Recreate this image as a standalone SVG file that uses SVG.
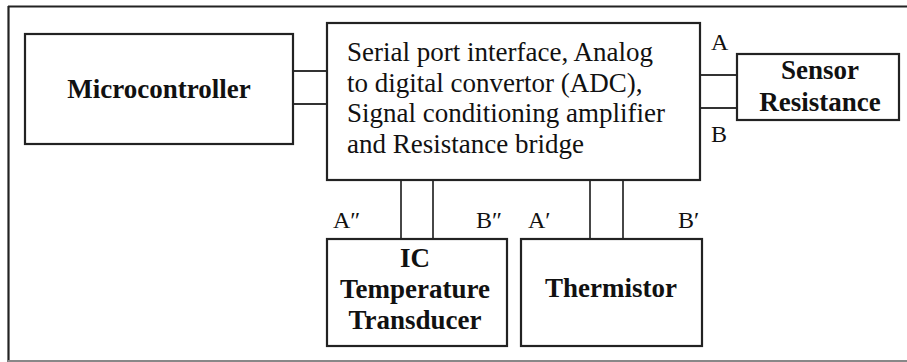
<svg xmlns="http://www.w3.org/2000/svg" width="907" height="362" viewBox="0 0 907 362">
<style>
.box{fill:#fff;stroke:#222;stroke-width:2.2}
.ln{stroke:#333;stroke-width:1.8;fill:none}
text{font-family:'Liberation Serif','Times New Roman',Tinos,'DejaVu Serif',serif;fill:#111}
.b{font-weight:bold;font-size:27px;text-anchor:middle}
.r{font-size:27px}
.lab{font-size:24px}
</style>
<rect width="907" height="362" fill="#fff"/>
<g id="frame">
<line x1="8" y1="6.5" x2="907" y2="6.5" stroke="#222" stroke-width="2.2"/>
<line x1="8.5" y1="6" x2="8.5" y2="362" stroke="#222" stroke-width="2.2"/>
<line x1="8" y1="361" x2="907" y2="361" stroke="#888" stroke-width="2"/>
</g>
<g id="connectors">
<line class="ln" x1="293" y1="71" x2="327" y2="71"/>
<line class="ln" x1="293" y1="104" x2="327" y2="104"/>
<line class="ln" x1="700" y1="75" x2="737" y2="75"/>
<line class="ln" x1="700" y1="108" x2="737" y2="108"/>
<line class="ln" x1="401" y1="180" x2="401" y2="239"/>
<line class="ln" x1="433" y1="180" x2="433" y2="239"/>
<line class="ln" x1="590" y1="180" x2="590" y2="239"/>
<line class="ln" x1="623" y1="180" x2="623" y2="239"/>
<text class="lab" x="711" y="50">A</text>
<text class="lab" x="711" y="142">B</text>
<text class="lab" x="333" y="228">A″</text>
<text class="lab" x="476" y="228">B″</text>
<text class="lab" x="528" y="228">A′</text>
<text class="lab" x="678" y="228">B′</text>
</g>
<g id="microcontroller">
<rect class="box" x="25" y="34" width="268" height="110"/>
<text class="b" x="159" y="98">Microcontroller</text>
</g>
<g id="interface">
<rect class="box" x="327" y="23" width="373" height="157"/>
<text class="r" x="347" y="61">Serial port interface, Analog</text>
<text class="r" x="347" y="92">to digital convertor (ADC),</text>
<text class="r" x="347" y="122">Signal conditioning amplifier</text>
<text class="r" x="347" y="153">and Resistance bridge</text>
</g>
<g id="sensor">
<rect class="box" x="737" y="54" width="162" height="66"/>
<text class="b" x="820" y="79">Sensor</text>
<text class="b" x="820" y="111">Resistance</text>
</g>
<g id="ic">
<rect class="box" x="327" y="239" width="180" height="107"/>
<text class="b" x="415" y="267">IC</text>
<text class="b" x="415" y="298">Temperature</text>
<text class="b" x="415" y="329">Transducer</text>
</g>
<g id="thermistor">
<rect class="box" x="521" y="239" width="181" height="107"/>
<text class="b" x="611" y="297">Thermistor</text>
</g>
</svg>
